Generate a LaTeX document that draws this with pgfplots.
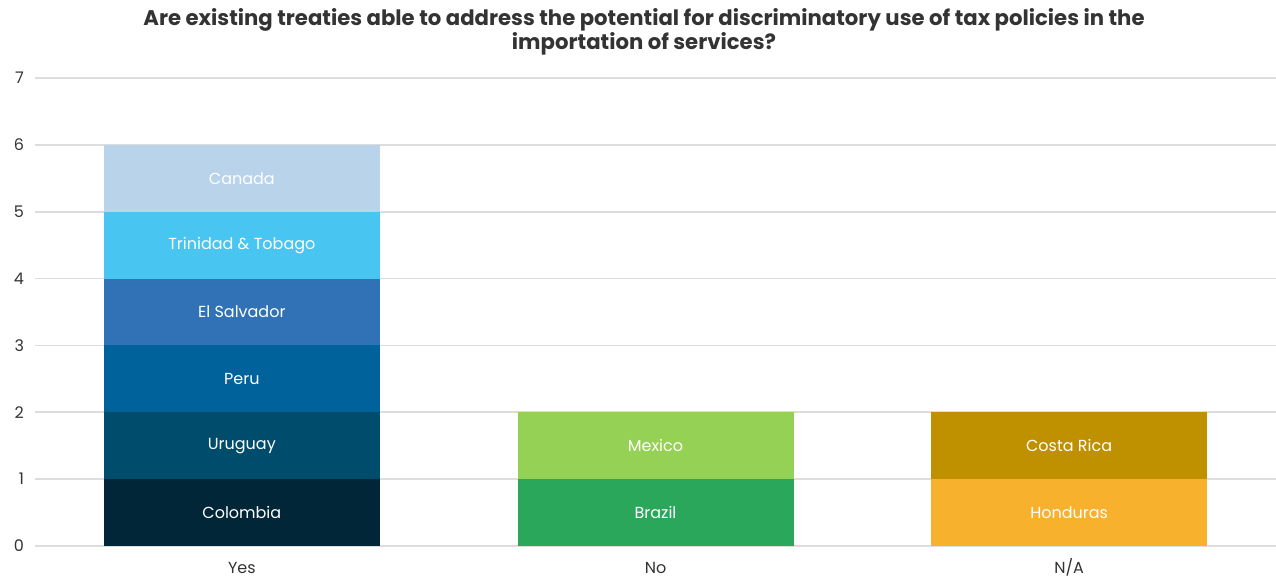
\documentclass[border=0pt]{standalone}
\usepackage{pgfplots}
\pgfplotsset{compat=1.18}
\usepackage{fontspec}
\setmainfont{Poppins}
\definecolor{cCol}{HTML}{002638}
\definecolor{cUru}{HTML}{004C6C}
\definecolor{cPer}{HTML}{00629B}
\definecolor{cSal}{HTML}{3072B5}
\definecolor{cTri}{HTML}{48C5F0}
\definecolor{cCan}{HTML}{B8D3EA}
\definecolor{cBra}{HTML}{2AA75A}
\definecolor{cMex}{HTML}{95D154}
\definecolor{cHon}{HTML}{F8B12C}
\definecolor{cCos}{HTML}{BF9000}
\definecolor{txt}{HTML}{333333}
\definecolor{gridc}{HTML}{DDDDDD}
\begin{document}
\begin{tikzpicture}
\useasboundingbox (0,0) rectangle (638pt,288.5pt);
\begin{axis}[
  at={(17.5pt,15.5pt)}, anchor=south west,
  scale only axis, width=620.5pt, height=234pt,
  xmin=-0.5, xmax=2.5, ymin=0, ymax=7,
  ybar stacked, bar width=138pt,
  axis line style={draw=none},
  xtick={0,1,2}, xticklabels={Yes,No,N/A},
  ytick={0,...,7},
  major tick length=0pt,
  ymajorgrids, grid style={gridc, line width=0.8pt},
  tick label style={font=\fontsize{8}{9}\selectfont, text=txt},
  /pgf/number format/assume math mode=true,
  yticklabel style={xshift=-2pt},
  xticklabel style={anchor=north, text height=1.6ex, text depth=0.3ex, yshift=-1.5pt},
  point meta=explicit symbolic,
  nodes near coords={\pgfplotspointmeta},
  nodes near coords style={anchor=center, text=white, font=\fontsize{8}{9}\selectfont},
  every axis plot/.append style={draw=none},
]
\addplot[fill=cCol] coordinates {(0,1) [Colombia] (1,0) [] (2,0) []};
\addplot[fill=cUru] coordinates {(0,1) [Uruguay] (1,0) [] (2,0) []};
\addplot[fill=cPer] coordinates {(0,1) [Peru] (1,0) [] (2,0) []};
\addplot[fill=cSal] coordinates {(0,1) [El Salvador] (1,0) [] (2,0) []};
\addplot[fill=cTri] coordinates {(0,1) [Trinidad \& Tobago] (1,0) [] (2,0) []};
\addplot[fill=cCan] coordinates {(0,1) [Canada] (1,0) [] (2,0) []};
\addplot[fill=cBra] coordinates {(0,0) [] (1,1) [Brazil] (2,0) []};
\addplot[fill=cMex] coordinates {(0,0) [] (1,1) [Mexico] (2,0) []};
\addplot[fill=cHon] coordinates {(0,0) [] (1,0) [] (2,1) [Honduras]};
\addplot[fill=cCos] coordinates {(0,0) [] (1,0) [] (2,1) [Costa Rica]};
\end{axis}
\node[align=center, text=txt, font=\fontsize{10.6}{12}\selectfont\bfseries] at (322pt,272.5pt)
 {Are existing treaties able to address the potential for discriminatory use of tax policies in the\\ importation of services?};
\end{tikzpicture}
\end{document}
